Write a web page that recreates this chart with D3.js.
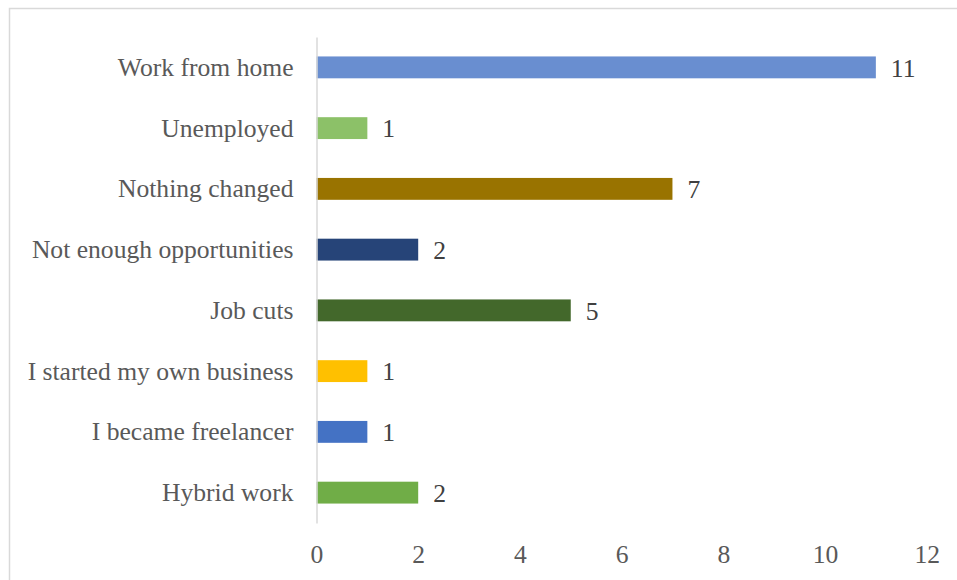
<!DOCTYPE html>
<html>
<head>
<meta charset="utf-8">
<script src="https://cdn.jsdelivr.net/npm/d3@7"></script>
<style>
  html, body { margin: 0; padding: 0; background: #ffffff; }
  svg { display: block; }
  text { font-family: "Liberation Serif", "Times New Roman", serif; }
</style>
</head>
<body>
<svg id="chart" width="957" height="580"></svg>
<script>
// Survey answers, listed top to bottom
const categories = [
  "Work from home",
  "Unemployed",
  "Nothing changed",
  "Not enough opportunities",
  "Job cuts",
  "I started my own business",
  "I became freelancer",
  "Hybrid work"
];
const counts = [11, 1, 7, 2, 5, 1, 1, 2];
const barColors = [
  "#698ed0", "#8cc168", "#997300", "#264478",
  "#43682b", "#ffc000", "#4472c4", "#70ad47"
];
const xTicks = [0, 2, 4, 6, 8, 10, 12];

const svg = d3.select("#chart");
const W = 957, H = 580;
const margin = { top: 37, right: 30, bottom: 57, left: 316.5 };
const fontSize = 25.6;

// Outer chart frame
svg.append("rect")
  .attr("x", 9.5).attr("y", 8.5)
  .attr("width", W + 20).attr("height", H + 20)
  .attr("fill", "#ffffff")
  .attr("stroke", "#d9d9d9")
  .attr("stroke-width", 1.5);

const x = d3.scaleLinear()
  .domain([0, 12])
  .range([margin.left, margin.left + 610.2]);

const y = d3.scaleBand()
  .domain(categories)
  .range([margin.top, H - margin.bottom])
  .paddingInner(0.64)
  .paddingOuter(0.32);

const data = categories.map((c, i) => ({ cat: c, val: counts[i], color: barColors[i] }));

// Bars
svg.append("g").selectAll("rect")
  .data(data)
  .join("rect")
  .attr("x", x(0))
  .attr("y", d => y(d.cat))
  .attr("width", d => x(d.val) - x(0))
  .attr("height", y.bandwidth())
  .attr("fill", d => d.color);

// Category axis (left)
const yAxis = svg.append("g")
  .attr("transform", `translate(${x(0)},0)`)
  .call(d3.axisLeft(y).tickSize(0).tickPadding(23).tickSizeOuter(0));
yAxis.select(".domain")
  .attr("stroke", "#d9d9d9")
  .attr("stroke-width", 1.5);
yAxis.selectAll("text")
  .attr("font-size", fontSize)
  .attr("font-family", "Liberation Serif, serif")
  .attr("fill", "#595959")
  .attr("dy", "0.33em");

// Value axis (bottom)
const xAxis = svg.append("g")
  .attr("transform", `translate(0,${H - margin.bottom})`)
  .call(d3.axisBottom(x).tickValues(xTicks).tickSize(0).tickFormat(d3.format("d")));
xAxis.select(".domain").remove();
xAxis.selectAll("text")
  .attr("y", 40)
  .attr("dy", null)
  .attr("font-size", fontSize)
  .attr("font-family", "Liberation Serif, serif")
  .attr("fill", "#595959");

// Value labels at bar ends
svg.append("g").selectAll("text")
  .data(data)
  .join("text")
  .attr("x", d => x(d.val) + 15)
  .attr("y", d => y(d.cat) + y.bandwidth() / 2)
  .attr("dy", "0.36em")
  .attr("font-size", fontSize)
  .attr("fill", "#404040")
  .text(d => d.val);
</script>
</body>
</html>
